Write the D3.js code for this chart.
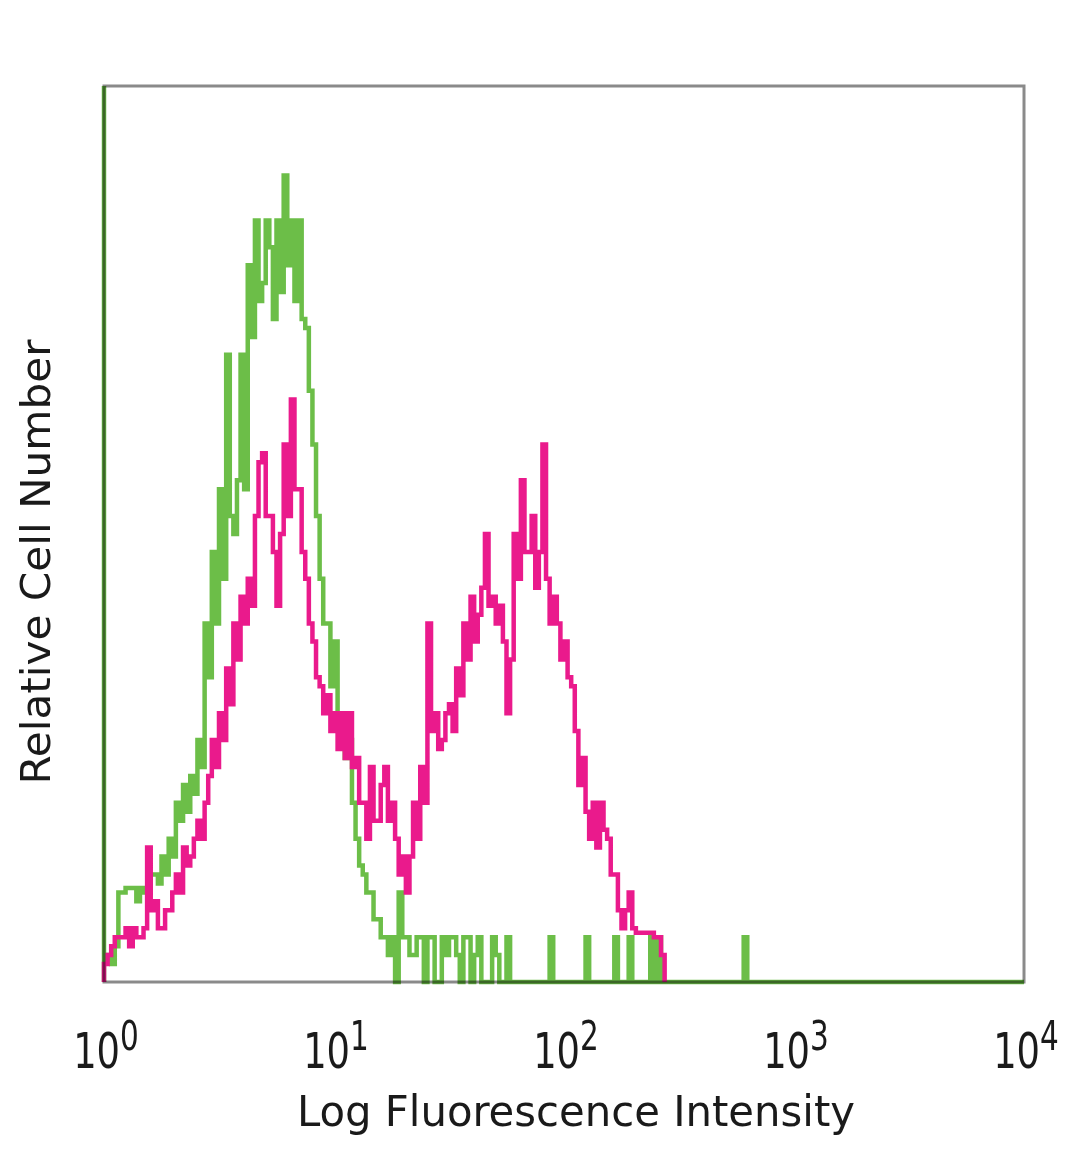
<!DOCTYPE html>
<html>
<head>
<meta charset="utf-8">
<script src="https://cdn.jsdelivr.net/npm/d3@7/dist/d3.min.js"></script>
<style>
  html, body { margin: 0; padding: 0; background: #fff; }
  svg { display: block; }
</style>
</head>
<body>
<script>
// ---- Data ----
// Histogram channels: 64 channels per decade, starting at 10^0.
const channelsPerDecade = 64;
const tickValues = [1, 10, 100, 1000, 10000];
const tickExponents = ["0", "1", "2", "3", "4"];
const xLabel = "Log Fluorescence Intensity";
const yLabel = "Relative Cell Number";

// Events piled up on the lower edge (10^0), relative count
const greenFirstChannel = 100;
const magentaFirstChannel = 2;

// Relative counts (0–100 = full plot height), one value per channel.
const greenCounts = [
  3, 3, 2, 4, 10, 10, 10.5, 10.5, 10.5, 9, 10.5, 10, 10, 12, 12, 11,
  14, 12, 16, 14, 20, 18, 22, 19, 23, 21, 27, 24, 40, 34, 48, 40,
  55, 45, 70, 52, 50, 56, 70, 55, 80, 72, 85, 76, 78, 85, 82, 74,
  85, 77, 90, 80, 85, 76, 85, 74, 73, 66, 60, 52, 45, 40, 40, 33,
  38, 30, 30, 25, 27, 20, 16, 13, 12, 10, 10, 7, 7, 5, 5, 3,
  5, 0, 10, 5, 5, 3, 3, 5, 5, 0, 5, 5, 0, 0, 5, 3,
  5, 5, 3, 0, 5, 5, 0, 3, 5, 0, 0, 0, 5, 3, 0, 0,
  5, 0, 0, 0, 0, 0, 0, 0, 0, 0, 0, 0, 5, 0, 0, 0,
  0, 0, 0, 0, 0, 0, 5, 0, 0, 0, 0, 0, 0, 0, 5, 0,
  0, 0, 5, 0, 0, 0, 0, 0, 5, 0, 5, 0, 0, 0, 0, 0,
  0, 0, 0, 0, 0, 0, 0, 0, 0, 0, 0, 0, 0, 0, 0, 0,
  0, 0, 5, 0];

const magentaCounts = [
  2, 3, 4, 5, 5, 5, 6, 4, 6, 5, 5, 6, 15, 8, 9, 6,
  6, 8, 8, 10, 12, 10, 15, 13, 14, 16, 18, 16, 20, 23, 27, 24,
  30, 27, 35, 31, 40, 36, 43, 40, 45, 42, 52, 58, 59, 52, 52, 48,
  42, 50, 60, 52, 65, 55, 55, 48, 45, 40, 38, 34, 33, 30, 32, 28,
  30, 26, 30, 25, 30, 24, 25, 20, 20, 16, 24, 18, 18, 22, 24, 18,
  20, 16, 12, 14, 10, 14, 20, 16, 24, 20, 40, 28, 30, 26, 27, 30,
  31, 28, 35, 32, 40, 36, 43, 38, 41, 44, 50, 42, 43, 40, 42, 38,
  30, 36, 50, 45, 56, 48, 48, 52, 44, 48, 60, 45, 40, 43, 40, 36,
  38, 34, 33, 28, 22, 25, 19, 16, 20, 15, 20, 17, 16, 12, 12, 8,
  6, 8, 10, 6, 5.5, 5.5, 5.5, 5.5, 5.5, 5, 5, 3];

const seriesColors = { green: "#6cbe48", magenta: "#ea1a8c" };

// ---- Layout ----
const W = 1080, H = 1169;
const plot = { left: 104, right: 1024, top: 86, bottom: 982 };

const svg = d3.select("body").append("svg")
  .attr("width", W).attr("height", H)
  .style("background", "#fff");

const x = d3.scaleLog().domain([1, 10000]).range([plot.left, plot.right]);
const y = d3.scaleLinear().domain([0, 100]).range([plot.bottom, plot.top]).clamp(true);

function stepPoints(first, counts, extendToEnd) {
  const pts = [[1, 0], [1, first]];
  counts.forEach((v, i) => pts.push([Math.pow(10, i / channelsPerDecade), v]));
  pts.push([Math.pow(10, counts.length / channelsPerDecade), 0]);
  if (extendToEnd) pts.push([10000, 0]);
  return pts;
}

const line = d3.line()
  .x(d => x(d[0]))
  .y(d => y(d[1]))
  .curve(d3.curveStepAfter);

const g = svg.append("g");

g.append("path")
  .datum(stepPoints(greenFirstChannel, greenCounts, true))
  .attr("d", line)
  .attr("fill", "none")
  .attr("stroke", seriesColors.green)
  .attr("stroke-width", 4.5)
  .attr("stroke-linejoin", "miter");

g.append("path")
  .datum(stepPoints(magentaFirstChannel, magentaCounts, false))
  .attr("d", line)
  .attr("fill", "none")
  .attr("stroke", seriesColors.magenta)
  .attr("stroke-width", 4.5)
  .attr("stroke-linejoin", "miter");

// Frame (multiplied so that it darkens the green trace where they overlap)
svg.append("rect")
  .attr("x", plot.left).attr("y", plot.top)
  .attr("width", plot.right - plot.left)
  .attr("height", plot.bottom - plot.top)
  .attr("fill", "none")
  .attr("stroke", "#8a8a8a")
  .attr("stroke-width", 3)
  .style("mix-blend-mode", "multiply");

// X tick labels: 10^n
const fontFam = "'DejaVu Sans Condensed', 'Liberation Sans Narrow', 'DejaVu Sans', sans-serif";
const tickG = svg.append("g")
  .attr("font-family", fontFam)
  .attr("fill", "#1a1a1a");

tickValues.forEach((v, i) => {
  const cx = x(v) + 2;
  const t = tickG.append("text")
    .attr("x", 0)
    .attr("y", 0)
    .attr("text-anchor", "middle")
    .attr("font-size", 50)
    .attr("transform", `translate(${cx},1068) scale(0.82,1)`);
  t.append("tspan").text("10");
  t.append("tspan").attr("font-size", 40).attr("dy", -18).text(tickExponents[i]);
});

svg.append("text")
  .attr("x", 576).attr("y", 1126)
  .attr("text-anchor", "middle")
  .attr("font-family", fontFam)
  .attr("font-size", 42)
  .attr("fill", "#1a1a1a")
  .attr("textLength", 558)
  .attr("lengthAdjust", "spacingAndGlyphs")
  .text(xLabel);

svg.append("text")
  .attr("transform", "translate(50,562) rotate(-90)")
  .attr("text-anchor", "middle")
  .attr("font-family", fontFam)
  .attr("font-size", 40)
  .attr("fill", "#1a1a1a")
  .attr("textLength", 445)
  .attr("lengthAdjust", "spacingAndGlyphs")
  .text(yLabel);
</script>
</body>
</html>
